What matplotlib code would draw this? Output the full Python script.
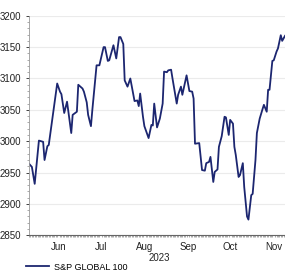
import numpy as np
import pandas as pd
import matplotlib
matplotlib.use("Agg")
import matplotlib.pyplot as plt
import matplotlib.dates as mdates
from matplotlib.ticker import MultipleLocator

# S&P GLOBAL 100 index level
dates = [
    "2023-05-25", "2023-05-27", "2023-05-29", "2023-06-01", "2023-06-04", "2023-06-05",
    "2023-06-07", "2023-06-08", "2023-06-14", "2023-06-16", "2023-06-17", "2023-06-19",
    "2023-06-21", "2023-06-24", "2023-06-25", "2023-06-28", "2023-06-29", "2023-07-02",
    "2023-07-03", "2023-07-05", "2023-07-06", "2023-07-08", "2023-07-09", "2023-07-12",
    "2023-07-14", "2023-07-17", "2023-07-18", "2023-07-20", "2023-07-21", "2023-07-24",
    "2023-07-26", "2023-07-28", "2023-07-29", "2023-07-31", "2023-08-01", "2023-08-03",
    "2023-08-05", "2023-08-08", "2023-08-10", "2023-08-11", "2023-08-12", "2023-08-14",
    "2023-08-15", "2023-08-18", "2023-08-20", "2023-08-21", "2023-08-22", "2023-08-24",
    "2023-08-26", "2023-08-28", "2023-08-29", "2023-08-31", "2023-09-01", "2023-09-03",
    "2023-09-04", "2023-09-07", "2023-09-08", "2023-09-10", "2023-09-11", "2023-09-14",
    "2023-09-16", "2023-09-18", "2023-09-19", "2023-09-20", "2023-09-23", "2023-09-25",
    "2023-09-27", "2023-09-28", "2023-09-30", "2023-10-01", "2023-10-03", "2023-10-04",
    "2023-10-06", "2023-10-07", "2023-10-09", "2023-10-11", "2023-10-12", "2023-10-14",
    "2023-10-15", "2023-10-17", "2023-10-18", "2023-10-19", "2023-10-21", "2023-10-22",
    "2023-10-24", "2023-10-25", "2023-10-27", "2023-10-28", "2023-10-30", "2023-10-31",
    "2023-11-02", "2023-11-03", "2023-11-05", "2023-11-07", "2023-11-08", "2023-11-10",
    "2023-11-11", "2023-11-12", "2023-11-14", "2023-11-15", "2023-11-17", "2023-11-18",
    "2023-11-20", "2023-11-21", "2023-11-23",
]
values = [
    2964, 2959, 2932, 3001, 2999, 2970,
    2992, 2994, 3092, 3079, 3075, 3045,
    3063, 3013, 3042, 3047, 3090, 3084,
    3079, 3062, 3042, 3024, 3050, 3121,
    3121, 3150, 3150, 3128, 3129, 3153,
    3132, 3166, 3166, 3155, 3097, 3087,
    3100, 3064, 3065, 3056, 3076, 3039,
    3024, 3005, 3026, 3025, 3060, 3022,
    3036, 3060, 3111, 3110, 3113, 3114,
    3100, 3060, 3074, 3087, 3074, 3105,
    3080, 3079, 3068, 2996, 2997, 2954,
    2953, 2965, 2967, 2975, 2935, 2951,
    2955, 2991, 3008, 3039, 3038, 3010,
    3034, 3028, 2991, 2978, 2943, 2946,
    2965, 2927, 2880, 2875, 2914, 2916,
    2970, 3013, 3036, 3051, 3058, 3047,
    3082, 3082, 3128, 3129, 3143, 3148,
    3169, 3160, 3168,
]
series_name = "S&P GLOBAL 100"
y_ticks = [2850, 2900, 2950, 3000, 3050, 3100, 3150, 3200]
year_label = "2023"

x = pd.to_datetime(dates)

plt.rcParams['font.family'] = ['Liberation Sans', 'DejaVu Sans']

fig = plt.figure(figsize=(2.85, 2.72), dpi=100)
ax = fig.add_axes([0.102, 0.135, 0.898, 0.807])

ax.plot(x, values, color="#1c2670", linewidth=1.3)

ax.set_ylim(2850, 3200)
ax.set_xlim(pd.Timestamp("2023-05-25"), pd.Timestamp("2023-11-23"))

ax.set_yticks(y_ticks)
ax.yaxis.set_minor_locator(MultipleLocator(10))
ax.grid(axis="y", color="#ebebeb", linewidth=0.8)
ax.set_axisbelow(True)

# month labels in the middle of each month, small daily ticks on the axis
ax.xaxis.set_major_locator(mdates.MonthLocator(bymonthday=15))
ax.xaxis.set_major_formatter(mdates.DateFormatter("%b"))
ax.xaxis.set_minor_locator(mdates.DayLocator())
ax.tick_params(axis="x", which="major", length=0, pad=5, labelsize=7, colors="#222222")
ax.tick_params(axis="x", which="minor", length=1.5, width=0.5, color="#888888")
ax.tick_params(axis="y", which="major", length=2.5, width=0.6, labelsize=7,
               colors="#222222", pad=3)
ax.tick_params(axis="y", which="minor", length=1.5, width=0.5, color="#888888")

for side in ["top", "right"]:
    ax.spines[side].set_visible(False)
ax.spines["left"].set_color("#999999")
ax.spines["bottom"].set_color("#666666")
ax.spines["left"].set_linewidth(0.6)
ax.spines["bottom"].set_linewidth(0.8)

fig.text(0.558, 1 - 258 / 272, year_label, ha="center", va="center",
         fontsize=7, color="#222222")

leg = fig.legend([ax.lines[0]], [series_name], loc="center left",
                 bbox_to_anchor=(0.09, 1 - 267 / 272), frameon=False,
                 fontsize=6.5, handlelength=2.6, handletextpad=0.5,
                 borderpad=0, borderaxespad=0)

fig.savefig("out.png", dpi=100)
